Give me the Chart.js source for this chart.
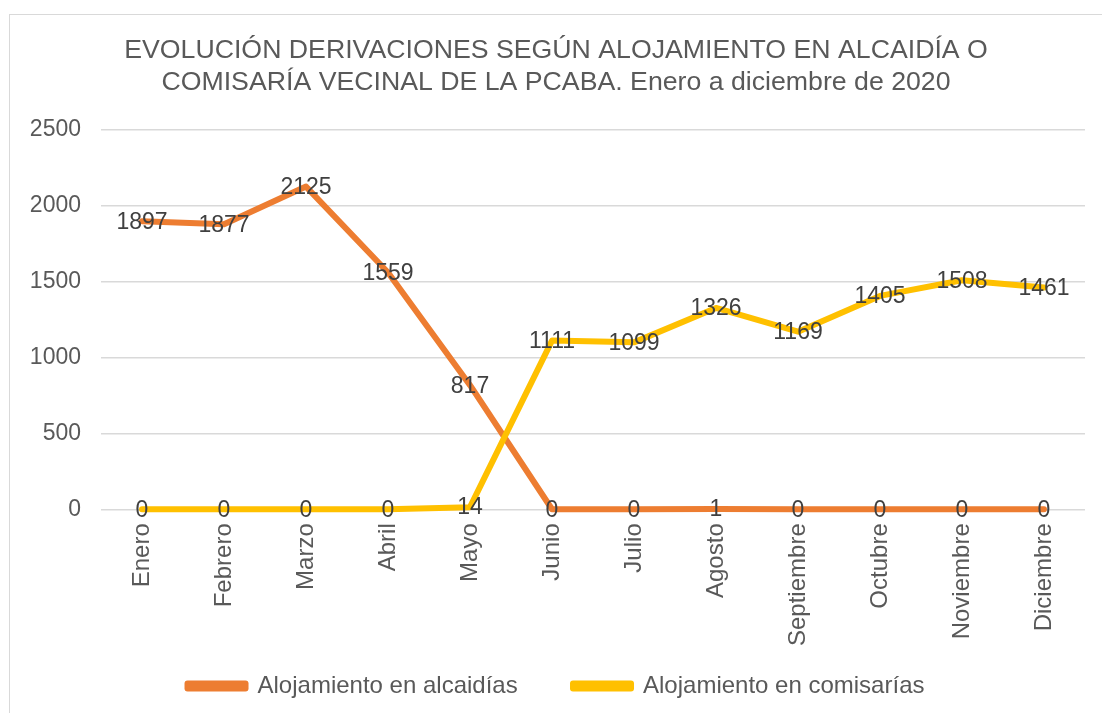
<!DOCTYPE html>
<html>
<head>
<meta charset="utf-8">
<script src="https://cdn.jsdelivr.net/npm/chart.js@4.4.0/dist/chart.umd.min.js"></script>
<style>
  html, body { margin: 0; padding: 0; background: #ffffff; }
  #box {
    position: absolute; left: 9px; top: 14px;
    width: 1100px; height: 710px;
    border: 1.5px solid #d9d9d9;
    background: #ffffff;
  }
</style>
</head>
<body>
<div id="box"><canvas id="chart"></canvas></div>
<script>
// datos del gráfico
const meses = ['Enero', 'Febrero', 'Marzo', 'Abril', 'Mayo', 'Junio', 'Julio', 'Agosto', 'Septiembre', 'Octubre', 'Noviembre', 'Diciembre'];
const alcaidias = [1897, 1877, 2125, 1559, 817, 0, 0, 1, 0, 0, 0, 0];
const comisarias = [0, 0, 0, 0, 14, 1111, 1099, 1326, 1169, 1405, 1508, 1461];
const tituloLineas = ['EVOLUCIÓN DERIVACIONES SEGÚN ALOJAMIENTO EN ALCAIDÍA O', 'COMISARÍA VECINAL DE LA PCABA. Enero a diciembre de 2020'];

const fuente = "'Liberation Sans', Arial, sans-serif";
const gris = '#595959';

// etiquetas de datos centradas en cada punto
const etiquetasPlugin = {
    id: 'etiquetas',
    afterDatasetsDraw(chart) {
        const ctx = chart.ctx;
        ctx.save();
        ctx.font = `23px ${fuente}`;
        ctx.fillStyle = '#404040';
        ctx.textAlign = 'center';
        ctx.textBaseline = 'middle';
        chart.data.datasets.forEach((ds, i) => {
            const meta = chart.getDatasetMeta(i);
            meta.data.forEach((pt, j) => {
                ctx.fillText(String(ds.data[j]), pt.x, pt.y + 1);
            });
        });
        ctx.restore();
    }
};

const chartData = {
    labels: meses,
    datasets: [{
        label: 'Alojamiento en alcaidías',
        data: alcaidias,
        borderColor: '#ED7D31',
        backgroundColor: '#ED7D31',
        borderWidth: 6,
        borderCapStyle: 'round',
        borderJoinStyle: 'round',
        pointRadius: 0,
        clip: false,
        order: 1
    }, {
        label: 'Alojamiento en comisarías',
        data: comisarias,
        borderColor: '#FFC000',
        backgroundColor: '#FFC000',
        borderWidth: 6,
        borderCapStyle: 'round',
        borderJoinStyle: 'round',
        pointRadius: 0,
        clip: false,
        order: 0
    }]
};

// leyenda en orden de las series, con más separación entre elementos
function etiquetasLeyenda(chart) {
    const items = Chart.defaults.plugins.legend.labels.generateLabels(chart);
    items.sort((a, b) => a.datasetIndex - b.datasetIndex);
    items[0].text += '\u00a0\u00a0\u00a0\u00a0\u00a0';
    return items;
}

const chartOption = {
    responsive: false,
    animation: false,
    layout: {
        padding: { left: 17, right: 18, top: 19, bottom: 4 }
    },
    plugins: {
        title: {
            display: true,
            text: tituloLineas,
            color: gris,
            font: { family: fuente, size: 26.7, weight: 'normal', lineHeight: 1.21 },
            padding: { top: 0, bottom: 31 }
        },
        legend: {
            position: 'bottom',
            labels: {
                color: gris,
                font: { family: fuente, size: 24 },
                boxWidth: 58,
                boxHeight: 5,
                padding: 22,
                generateLabels: etiquetasLeyenda
            }
        },
        tooltip: { enabled: false }
    },
    scales: {
        x: {
            offset: true,
            grid: { display: false },
            border: { display: false },
            ticks: {
                color: gris,
                font: { family: fuente, size: 24 },
                minRotation: 90,
                maxRotation: 90,
                autoSkip: false,
                padding: 6
            }
        },
        y: {
            min: 0,
            max: 2500,
            grid: { color: '#d9d9d9', lineWidth: 1.5, drawTicks: false },
            border: { display: false },
            afterFit: (scale) => { scale.width = 74; },
            ticks: {
                stepSize: 500,
                color: gris,
                font: { family: fuente, size: 23 },
                padding: 20,
                callback: (v) => String(v)
            }
        }
    }
};

const canvas = document.getElementById('chart');
canvas.width = 1093;
canvas.height = 697;
new Chart(canvas, {
    type: 'line',
    data: chartData,
    options: chartOption,
    plugins: [etiquetasPlugin]
});
</script>
</body>
</html>
